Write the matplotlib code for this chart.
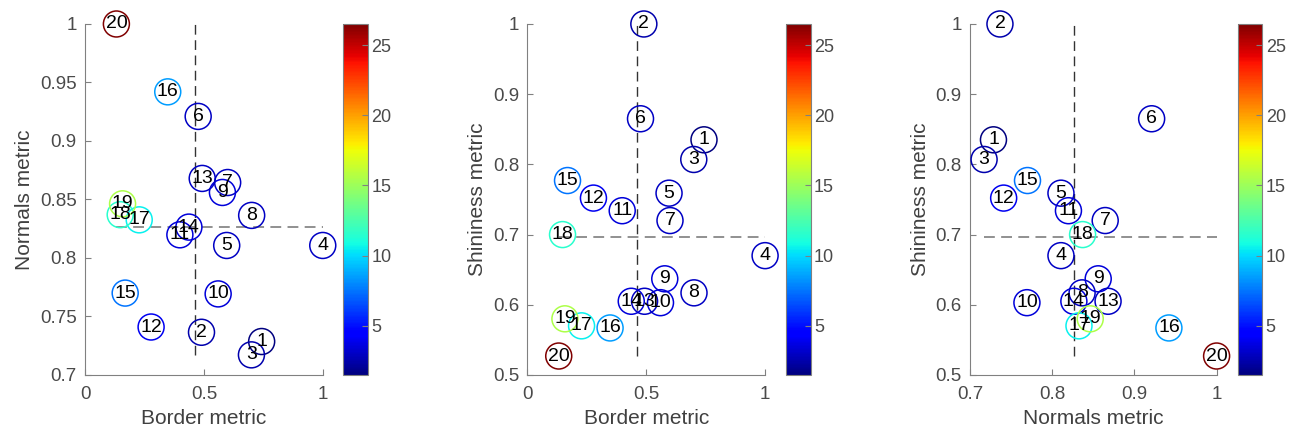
import matplotlib
matplotlib.use('Agg')
import matplotlib.pyplot as plt
import numpy as np

plt.rcParams['font.family'] = ['Liberation Sans', 'DejaVu Sans']

# item labels 1..20
ids = list(range(1, 21))

border = [0.743, 0.490, 0.700, 1.000, 0.596, 0.476, 0.600, 0.701, 0.578, 0.560,
          0.399, 0.278, 0.493, 0.437, 0.169, 0.348, 0.228, 0.148, 0.158, 0.132]
normals = [0.7286, 0.7365, 0.7172, 0.8107, 0.8107, 0.9210, 0.8645, 0.8364, 0.8560, 0.7693,
           0.8198, 0.7410, 0.8680, 0.8264, 0.7700, 0.9420, 0.8326, 0.8370, 0.8463, 1.0000]
shininess = [0.835, 1.000, 0.807, 0.670, 0.759, 0.865, 0.720, 0.617, 0.637, 0.603,
             0.734, 0.752, 0.605, 0.605, 0.777, 0.567, 0.570, 0.700, 0.580, 0.527]
# colour value of each item
score = [1.5, 2.5, 2.5, 3.0, 3.0, 3.0, 3.0, 3.0, 3.5, 3.5,
         3.5, 4.0, 3.0, 3.5, 7.5, 8.5, 10.5, 11.5, 15.5, 26.5]

panels = [
    (border, normals, 'Border metric', 'Normals metric', (0, 1), (0.7, 1),
     [0, 0.5, 1], ['0', '0.5', '1'], [0.7, 0.75, 0.8, 0.85, 0.9, 0.95, 1],
     ['0.7', '0.75', '0.8', '0.85', '0.9', '0.95', '1']),
    (border, shininess, 'Border metric', 'Shininess metric', (0, 1), (0.5, 1),
     [0, 0.5, 1], ['0', '0.5', '1'], [0.5, 0.6, 0.7, 0.8, 0.9, 1],
     ['0.5', '0.6', '0.7', '0.8', '0.9', '1']),
    (normals, shininess, 'Normals metric', 'Shininess metric', (0.7, 1), (0.5, 1),
     [0.7, 0.8, 0.9, 1], ['0.7', '0.8', '0.9', '1'], [0.5, 0.6, 0.7, 0.8, 0.9, 1],
     ['0.5', '0.6', '0.7', '0.8', '0.9', '1']),
]

ax_rects = [[0.0659, 0.134, 0.1843, 0.8106],
            [0.4088, 0.134, 0.1843, 0.8106],
            [0.7519, 0.134, 0.1912, 0.8106]]
cb_rects = [[0.2659, 0.134, 0.0194, 0.8106],
            [0.6093, 0.134, 0.0190, 0.8106],
            [0.9595, 0.134, 0.0190, 0.8106]]

fig = plt.figure(figsize=(12.9, 4.33), dpi=100)
norm = plt.Normalize(min(score), max(score))
cmap = plt.get_cmap('jet')
colors = cmap(norm(score))

tick_col = '#4a4a4a'
for (xs, ys, xl, yl, xlim, ylim, xt, xtl, yt, ytl), r, cr in zip(panels, ax_rects, cb_rects):
    ax = fig.add_axes(r)
    ax.scatter(xs, ys, s=350, facecolors='none', edgecolors=colors, linewidths=1.1,
               clip_on=False, zorder=3)
    for i, x, y in zip(ids, xs, ys):
        ax.text(x, y, str(i), ha='center', va='center', fontsize=14, color='black',
                zorder=4, clip_on=False)
    # dashed lines at the means
    mx, my = np.mean(xs), np.mean(ys)
    ax.plot([mx, mx], [min(ys), max(ys)], color='#333333', linewidth=1.0,
            dashes=(7, 4), zorder=2)
    ax.plot([min(xs), max(xs)], [my, my], color='#888888', linewidth=1.3,
            dashes=(6, 3.5), zorder=2)
    ax.set_xlim(xlim)
    ax.set_ylim(ylim)
    ax.set_xticks(xt)
    ax.set_xticklabels(xtl)
    ax.set_yticks(yt)
    ax.set_yticklabels(ytl)
    ax.set_xlabel(xl, fontsize=15, color='#404040', labelpad=4)
    ax.set_ylabel(yl, fontsize=15, color='#404040', labelpad=4)
    ax.tick_params(direction='in', labelsize=13.5, colors='#808080', labelcolor=tick_col,
                   length=4)
    ax.tick_params(axis='y', pad=6)
    ax.tick_params(axis='x', pad=8)
    for s in ['top', 'right']:
        ax.spines[s].set_visible(False)
    for s in ['left', 'bottom']:
        ax.spines[s].set_color('#808080')

    cax = fig.add_axes(cr)
    sm = matplotlib.cm.ScalarMappable(norm=norm, cmap=cmap)
    cb = fig.colorbar(sm, cax=cax, ticks=[5, 10, 15, 20, 25])
    cb.outline.set_edgecolor('#808080')
    cax.tick_params(direction='in', labelsize=13, colors='#808080', labelcolor=tick_col,
                    length=4, pad=2.5)

fig.savefig('out.png', dpi=100)
